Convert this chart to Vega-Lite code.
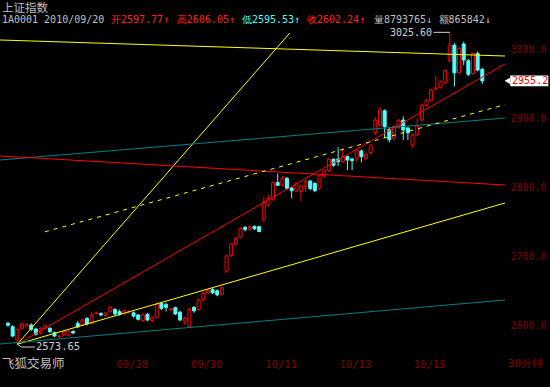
{
  "$schema": "https://vega.github.io/schema/vega-lite/v6.json",
  "width": 550,
  "height": 387,
  "autosize": {"type": "none"},
  "padding": 0,
  "background": "#000000",
  "config": {"view": {"stroke": null}},
  "datasets": {
    "candles": [
      {"i":0,"o":2604,"h":2606,"l":2599,"c":2601},
      {"i":1,"o":2599,"h":2601,"l":2584,"c":2585.5},
      {"i":2,"o":2579.7,"h":2596,"l":2573.65,"c":2595.2},
      {"i":3,"o":2596.7,"h":2605,"l":2594,"c":2603},
      {"i":4,"o":2600,"h":2604,"l":2599,"c":2602},
      {"i":5,"o":2601.4,"h":2604,"l":2593,"c":2595.2},
      {"i":6,"o":2595.6,"h":2597.7,"l":2586,"c":2588},
      {"i":7,"o":2591,"h":2598,"l":2588,"c":2596.7},
      {"i":8,"o":2596.7,"h":2602,"l":2595,"c":2600},
      {"i":9,"o":2596.7,"h":2598,"l":2590,"c":2591.8},
      {"i":10,"o":2590.3,"h":2592,"l":2584,"c":2585.5},
      {"i":11,"o":2584.5,"h":2587,"l":2582,"c":2585.5},
      {"i":12,"o":2587,"h":2593,"l":2585,"c":2592},
      {"i":13,"o":2587,"h":2594,"l":2585,"c":2593},
      {"i":14,"o":2592,"h":2594,"l":2588,"c":2590},
      {"i":15,"o":2604,"h":2607,"l":2597,"c":2598.6},
      {"i":16,"o":2601.4,"h":2610,"l":2600,"c":2608.7},
      {"i":17,"o":2611,"h":2613,"l":2601,"c":2603},
      {"i":18,"o":2604,"h":2620,"l":2602,"c":2616},
      {"i":19,"o":2618,"h":2621,"l":2617,"c":2619},
      {"i":20,"o":2618,"h":2620,"l":2614,"c":2616},
      {"i":21,"o":2615,"h":2620,"l":2613,"c":2619},
      {"i":22,"o":2621,"h":2629,"l":2619,"c":2627},
      {"i":23,"o":2624,"h":2626,"l":2615,"c":2617.4},
      {"i":24,"o":2620.7,"h":2624,"l":2615,"c":2617},
      {"i":25,"o":2618.4,"h":2624,"l":2616,"c":2622},
      {"i":26,"o":2620.7,"h":2624,"l":2618,"c":2621},
      {"i":27,"o":2619,"h":2621,"l":2612,"c":2614.5},
      {"i":28,"o":2616,"h":2617.4,"l":2608,"c":2609.7},
      {"i":29,"o":2608,"h":2619,"l":2606,"c":2616},
      {"i":30,"o":2617,"h":2619,"l":2607,"c":2608.7},
      {"i":31,"o":2608,"h":2614,"l":2605,"c":2612},
      {"i":32,"o":2612.6,"h":2635,"l":2611,"c":2631.4},
      {"i":33,"o":2633,"h":2635,"l":2623,"c":2625.6},
      {"i":34,"o":2631,"h":2634,"l":2621,"c":2627},
      {"i":35,"o":2623,"h":2626,"l":2622,"c":2625},
      {"i":36,"o":2626.6,"h":2628,"l":2616,"c":2617.4},
      {"i":37,"o":2620,"h":2622,"l":2607,"c":2608.7},
      {"i":38,"o":2607,"h":2613,"l":2602,"c":2611},
      {"i":39,"o":2599,"h":2626,"l":2598,"c":2624},
      {"i":40,"o":2627,"h":2629,"l":2619,"c":2622},
      {"i":41,"o":2624,"h":2640,"l":2622,"c":2637.7},
      {"i":42,"o":2638,"h":2650,"l":2636,"c":2647.5},
      {"i":43,"o":2648,"h":2654,"l":2646,"c":2652},
      {"i":44,"o":2653,"h":2655,"l":2646,"c":2648},
      {"i":45,"o":2651,"h":2653,"l":2643,"c":2645},
      {"i":46,"o":2646,"h":2657,"l":2644,"c":2655.5},
      {"i":47,"o":2680,"h":2703,"l":2677,"c":2701.4},
      {"i":48,"o":2702,"h":2720,"l":2700,"c":2719},
      {"i":49,"o":2719,"h":2730,"l":2716,"c":2727},
      {"i":50,"o":2728.6,"h":2743,"l":2727,"c":2741.6},
      {"i":51,"o":2743,"h":2745,"l":2737,"c":2740},
      {"i":52,"o":2740,"h":2746,"l":2738,"c":2744},
      {"i":53,"o":2744,"h":2746,"l":2739,"c":2741},
      {"i":54,"o":2744,"h":2745,"l":2736,"c":2737},
      {"i":55,"o":2753.6,"h":2787,"l":2752,"c":2780},
      {"i":56,"o":2775.4,"h":2790,"l":2773,"c":2785},
      {"i":57,"o":2783.6,"h":2810,"l":2781,"c":2807.7},
      {"i":58,"o":2808,"h":2821,"l":2803,"c":2804},
      {"i":59,"o":2804,"h":2818,"l":2802,"c":2814},
      {"i":60,"o":2814,"h":2816,"l":2798,"c":2799.6},
      {"i":61,"o":2800,"h":2801,"l":2785,"c":2796},
      {"i":62,"o":2796,"h":2808,"l":2794,"c":2806},
      {"i":63,"o":2795,"h":2805,"l":2781,"c":2803},
      {"i":64,"o":2802,"h":2812,"l":2794,"c":2809},
      {"i":65,"o":2810,"h":2812,"l":2797,"c":2799},
      {"i":66,"o":2806.8,"h":2808,"l":2794,"c":2796},
      {"i":67,"o":2799.6,"h":2820,"l":2797,"c":2818.8},
      {"i":68,"o":2817.4,"h":2827,"l":2815,"c":2825},
      {"i":69,"o":2825,"h":2843,"l":2823,"c":2841.6},
      {"i":70,"o":2841.6,"h":2843,"l":2831,"c":2833},
      {"i":71,"o":2842,"h":2859,"l":2832,"c":2838},
      {"i":72,"o":2838,"h":2858,"l":2836,"c":2845.4},
      {"i":73,"o":2845.4,"h":2847,"l":2826,"c":2840.6},
      {"i":74,"o":2842,"h":2844,"l":2826,"c":2839.6},
      {"i":75,"o":2843,"h":2857,"l":2838,"c":2855},
      {"i":76,"o":2853.6,"h":2856,"l":2837,"c":2845.4},
      {"i":77,"o":2843,"h":2851,"l":2841,"c":2849},
      {"i":78,"o":2851.2,"h":2864,"l":2849,"c":2861},
      {"i":79,"o":2879.7,"h":2903,"l":2877,"c":2898.5},
      {"i":80,"o":2891,"h":2918,"l":2889,"c":2913},
      {"i":81,"o":2912,"h":2914,"l":2872.5,"c":2889},
      {"i":82,"o":2885,"h":2887,"l":2866,"c":2870},
      {"i":83,"o":2872,"h":2891,"l":2868,"c":2889},
      {"i":84,"o":2888,"h":2900,"l":2886,"c":2897.5},
      {"i":85,"o":2898.5,"h":2904,"l":2869.6,"c":2884},
      {"i":86,"o":2887,"h":2888,"l":2869.6,"c":2880},
      {"i":87,"o":2862,"h":2879,"l":2858.5,"c":2876.8},
      {"i":88,"o":2877,"h":2901,"l":2875,"c":2890},
      {"i":89,"o":2898.5,"h":2922,"l":2896,"c":2920},
      {"i":90,"o":2920,"h":2929,"l":2918,"c":2927.5},
      {"i":91,"o":2926.5,"h":2944,"l":2925,"c":2942},
      {"i":92,"o":2943,"h":2963,"l":2941,"c":2945},
      {"i":93,"o":2946,"h":2956,"l":2944,"c":2954},
      {"i":94,"o":2952.6,"h":2972,"l":2950,"c":2970},
      {"i":95,"o":2984.5,"h":3025.6,"l":2982,"c":3007.2},
      {"i":96,"o":3007,"h":3010,"l":2947,"c":2967},
      {"i":97,"o":2967,"h":3004,"l":2965,"c":3002.5},
      {"i":98,"o":3008.7,"h":3012,"l":2978,"c":2985.5},
      {"i":99,"o":2984.5,"h":2987,"l":2962,"c":2964.8},
      {"i":100,"o":2966,"h":2997,"l":2964,"c":2995},
      {"i":101,"o":2995,"h":2998,"l":2969,"c":2971},
      {"i":102,"o":2972,"h":2974,"l":2951,"c":2955.2}
    ],
    "lines": [
      {"id":"ytop","i":-1.72,"p":3014.5},{"id":"ytop","i":106.88,"p":2991.3},
      {"id":"ysteep","i":2,"p":2573.65},{"id":"ysteep","i":60.6,"p":3024.6},
      {"id":"rup","i":2,"p":2573.65},{"id":"rup","i":106.88,"p":2979.7},
      {"id":"ylow","i":2,"p":2573.65},{"id":"ylow","i":106.88,"p":2778.3},
      {"id":"tbot","i":-1.72,"p":2573.9},{"id":"tbot","i":106.88,"p":2637.7},
      {"id":"tup","i":-1.72,"p":2840.6},{"id":"tup","i":106.88,"p":2901.4},
      {"id":"rdown","i":-1.72,"p":2846.4},{"id":"rdown","i":106.88,"p":2804.3}
    ],
    "dash": [
      {"id":"ydash","i":7.96,"p":2736.5},{"id":"ydash","i":106.88,"p":2920.9}
    ],
    "annot": [
      {"id":"lo","i":2,"p":2573.65},{"id":"lo","i":2.9,"p":2569.5},{"id":"lo","i":5.8,"p":2569.5},
      {"id":"hi","i":91.5,"p":3025.6},{"id":"hi","i":95,"p":3025.6}
    ]
  },
  "layer": [
    {
      "data": {"name": "candles"},
      "mark": {"type": "rule", "strokeWidth": 1},
      "encoding": {
        "x": {"field": "i", "type": "quantitative", "scale": {"domain": [-1.72, 116.56], "nice": false, "zero": false, "padding": 0},
          "axis": {"orient": "bottom", "offset": -28, "values": [23, 39, 55, 71, 87], "labelExpr": "datum.value == 23 ? '09/28' : datum.value == 39 ? '09/30' : datum.value == 55 ? '10/11' : datum.value == 71 ? '10/13' : '10/15'",
            "title": null, "grid": false, "domain": false, "ticks": false, "tickSize": 0, "labelColor": "#800000", "labelFont": "DejaVu Sans Mono", "labelFontSize": 10.5, "labelAlign": "left", "labelBaseline": "top", "labelPadding": 0, "labelFlush": false, "labelOverlap": false, "labelOffset": 1}},
        "y": {"field": "l", "type": "quantitative", "scale": {"domain": [2511.59, 3072.46], "nice": false, "zero": false},
          "axis": {"orient": "right", "offset": -40, "values": [2600, 2700, 2800, 2900, 3000], "format": ".1f", "title": null, "grid": false, "domain": false, "ticks": false, "tickSize": 0, "labelColor": "#800000", "labelFont": "DejaVu Sans Mono", "labelFontSize": 10, "labelAlign": "left", "labelBaseline": "middle", "labelPadding": 0, "labelFlush": false, "labelOverlap": false}},
        "y2": {"field": "h"},
        "stroke": {"condition": {"test": "datum.c >= datum.o", "value": "#ff0000"}, "value": "#54fcfc"}
      }
    },
    {
      "data": {"name": "candles"},
      "mark": {"type": "bar", "size": 3, "strokeWidth": 1},
      "encoding": {
        "x": {"field": "i", "type": "quantitative", "scale": {"domain": [-1.72, 116.56], "nice": false, "zero": false, "padding": 0}},
        "y": {"field": "o", "type": "quantitative", "scale": {"domain": [2511.59, 3072.46], "nice": false, "zero": false}},
        "y2": {"field": "c"},
        "fill": {"condition": {"test": "datum.c >= datum.o", "value": "#000000"}, "value": "#54fcfc"},
        "stroke": {"condition": {"test": "datum.c >= datum.o", "value": "#ff0000"}, "value": "#54fcfc"}
      }
    },
    {
      "data": {"name": "lines"},
      "mark": {"type": "line", "strokeWidth": 1},
      "encoding": {
        "x": {"field": "i", "type": "quantitative", "scale": {"domain": [-1.72, 116.56], "nice": false, "zero": false, "padding": 0}},
        "y": {"field": "p", "type": "quantitative", "scale": {"domain": [2511.59, 3072.46], "nice": false, "zero": false}},
        "detail": {"field": "id"},
        "color": {"field": "id", "type": "nominal", "legend": null,
          "scale": {"domain": ["ytop", "ysteep", "rup", "ylow", "tbot", "tup", "rdown"], "range": ["#ffff00", "#ffff00", "#ff0000", "#ffff00", "#008080", "#008080", "#ff0000"]}}
      }
    },
    {
      "data": {"name": "dash"},
      "mark": {"type": "line", "strokeWidth": 1, "strokeDash": [4, 5], "color": "#ffff00"},
      "encoding": {
        "x": {"field": "i", "type": "quantitative", "scale": {"domain": [-1.72, 116.56], "nice": false, "zero": false, "padding": 0}},
        "y": {"field": "p", "type": "quantitative", "scale": {"domain": [2511.59, 3072.46], "nice": false, "zero": false}}
      }
    },
    {
      "data": {"name": "annot"},
      "mark": {"type": "line", "strokeWidth": 1, "color": "#d0d0d0"},
      "encoding": {
        "x": {"field": "i", "type": "quantitative", "scale": {"domain": [-1.72, 116.56], "nice": false, "zero": false, "padding": 0}},
        "y": {"field": "p", "type": "quantitative", "scale": {"domain": [2511.59, 3072.46], "nice": false, "zero": false}},
        "detail": {"field": "id"}
      }
    },
    {
      "data": {"values": [{}]},
      "mark": {"type": "rect", "color": "#ffffff"},
      "encoding": {"x": {"datum": 108.0, "type": "quantitative"}, "x2": {"datum": 116.2}, "y": {"datum": 2963.2, "type": "quantitative"}, "y2": {"datum": 2947.4}}
    },
    {
      "data": {"values": [{}]},
      "mark": {"type": "point", "shape": "triangle-left", "filled": true, "color": "#ffffff", "size": 40, "opacity": 1},
      "encoding": {"x": {"datum": 107.4, "type": "quantitative"}, "y": {"datum": 2955.3, "type": "quantitative"}}
    },
    {
      "data": {"values": [{}]},
      "mark": {"type": "text", "text": "2955.2", "align": "left", "baseline": "middle", "font": "DejaVu Sans Mono", "fontSize": 10, "color": "#ff0000"},
      "encoding": {"x": {"datum": 108.4, "type": "quantitative"}, "y": {"datum": 2955.3, "type": "quantitative"}}
    },
    {
      "data": {"values": [{}]},
      "mark": {"type": "text", "text": "2573.65", "align": "left", "baseline": "middle", "font": "DejaVu Sans Mono", "fontSize": 10.5, "color": "#d0d0d0"},
      "encoding": {"x": {"datum": 6.0, "type": "quantitative"}, "y": {"datum": 2569.5, "type": "quantitative"}}
    },
    {
      "data": {"values": [{}]},
      "mark": {"type": "text", "text": "3025.60", "align": "right", "baseline": "middle", "font": "DejaVu Sans Mono", "fontSize": 10, "color": "#d0d0d0"},
      "encoding": {"x": {"datum": 91.2, "type": "quantitative"}, "y": {"datum": 3024.8, "type": "quantitative"}}
    },
    {
      "data": {"values": [{}]},
      "mark": {"type": "text", "text": "上证指数", "align": "left", "baseline": "middle", "font": "Noto Sans CJK SC", "fontSize": 11.5, "color": "#c0c0c0"},
      "encoding": {"x": {"datum": -1.3, "type": "quantitative"}, "y": {"datum": 3058.7, "type": "quantitative"}}
    },
    {
      "data": {"values": [{}]},
      "mark": {"type": "text", "text": "1A0001 2010/09/20", "align": "left", "baseline": "middle", "font": "DejaVu Sans Mono", "fontSize": 10, "color": "#c0c0c0"},
      "encoding": {"x": {"datum": -1.3, "type": "quantitative"}, "y": {"datum": 3042.8, "type": "quantitative"}}
    },
    {
      "data": {"values": [{}]},
      "mark": {"type": "text", "text": "开2597.77↑", "align": "left", "baseline": "middle", "font": "DejaVu Sans Mono", "fontSize": 10, "color": "#ff2020"},
      "encoding": {"x": {"datum": 22.15, "type": "quantitative"}, "y": {"datum": 3042.8, "type": "quantitative"}}
    },
    {
      "data": {"values": [{}]},
      "mark": {"type": "text", "text": "高2606.05↑", "align": "left", "baseline": "middle", "font": "DejaVu Sans Mono", "fontSize": 10, "color": "#ff2020"},
      "encoding": {"x": {"datum": 36.3, "type": "quantitative"}, "y": {"datum": 3042.8, "type": "quantitative"}}
    },
    {
      "data": {"values": [{}]},
      "mark": {"type": "text", "text": "低2595.53↑", "align": "left", "baseline": "middle", "font": "DejaVu Sans Mono", "fontSize": 10, "color": "#54fcfc"},
      "encoding": {"x": {"datum": 50.3, "type": "quantitative"}, "y": {"datum": 3042.8, "type": "quantitative"}}
    },
    {
      "data": {"values": [{}]},
      "mark": {"type": "text", "text": "收2602.24↑", "align": "left", "baseline": "middle", "font": "DejaVu Sans Mono", "fontSize": 10, "color": "#ff2020"},
      "encoding": {"x": {"datum": 64.3, "type": "quantitative"}, "y": {"datum": 3042.8, "type": "quantitative"}}
    },
    {
      "data": {"values": [{}]},
      "mark": {"type": "text", "text": "量8793765↓", "align": "left", "baseline": "middle", "font": "DejaVu Sans Mono", "fontSize": 10, "color": "#c0c0c0"},
      "encoding": {"x": {"datum": 78.7, "type": "quantitative"}, "y": {"datum": 3042.8, "type": "quantitative"}}
    },
    {
      "data": {"values": [{}]},
      "mark": {"type": "text", "text": "额865842↓", "align": "left", "baseline": "middle", "font": "DejaVu Sans Mono", "fontSize": 10, "color": "#c0c0c0"},
      "encoding": {"x": {"datum": 92.6, "type": "quantitative"}, "y": {"datum": 3042.8, "type": "quantitative"}}
    },
    {
      "data": {"values": [{}]},
      "mark": {"type": "text", "text": "飞狐交易师", "align": "left", "baseline": "middle", "font": "Noto Sans CJK SC", "fontSize": 12.5, "color": "#c0c0c0"},
      "encoding": {"x": {"datum": -1.3, "type": "quantitative"}, "y": {"datum": 2544.9, "type": "quantitative"}}
    },
    {
      "data": {"values": [{}]},
      "mark": {"type": "text", "text": "30分钟", "align": "left", "baseline": "middle", "font": "DejaVu Sans Mono", "fontSize": 11, "color": "#800000"},
      "encoding": {"x": {"datum": 107.5, "type": "quantitative"}, "y": {"datum": 2544.9, "type": "quantitative"}}
    }
  ]
}
